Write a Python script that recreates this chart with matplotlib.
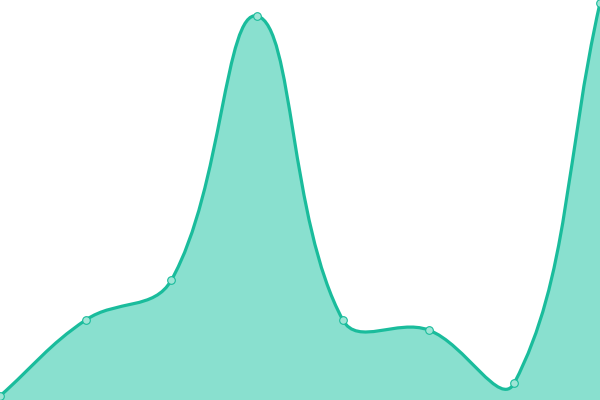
import numpy as np
import matplotlib
matplotlib.use("Agg")
import matplotlib.pyplot as plt
from matplotlib.path import Path
from matplotlib.patches import PathPatch

# values (y axis 0..400)
labels = ["A", "B", "C", "D", "E", "F", "G", "H"]
values = [4, 80, 120, 384, 80, 70, 17, 397]

line_color = "#1abc9c"
fill_color = "#89e0cf"
tension = 0.4

fig = plt.figure(figsize=(6, 4), dpi=100)
ax = fig.add_axes([0, 0, 1, 1])
ax.set_xlim(0, len(values) - 1)
ax.set_ylim(0, 400)
ax.axis("off")

# spline control points computed in pixel space (like chart.js tension)
xs = np.arange(len(values))
pts = ax.transData.transform(np.column_stack([xs, values]))
n = len(pts)
cp_in = [None] * n
cp_out = [None] * n
for i in range(n):
    cur = pts[i]
    prev = pts[i - 1] if i > 0 else cur
    nxt = pts[i + 1] if i < n - 1 else cur
    d01 = np.hypot(*(cur - prev))
    d12 = np.hypot(*(nxt - cur))
    tot = d01 + d12
    s01 = d01 / tot if tot else 0
    s12 = d12 / tot if tot else 0
    cp_in[i] = cur - tension * s01 * (nxt - prev)
    cp_out[i] = cur + tension * s12 * (nxt - prev)

verts = [pts[0]]
codes = [Path.MOVETO]
for i in range(n - 1):
    verts += [cp_out[i], cp_in[i + 1], pts[i + 1]]
    codes += [Path.CURVE4] * 3
inv = ax.transData.inverted()
verts_data = inv.transform(np.array(verts))

base = ax.transData.transform([[xs[-1], 0], [xs[0], 0]])
fill_verts = np.vstack([verts_data, inv.transform(base), verts_data[:1]])
fill_codes = codes + [Path.LINETO, Path.LINETO, Path.CLOSEPOLY]

ax.add_patch(PathPatch(Path(fill_verts, fill_codes), facecolor=fill_color,
                       edgecolor="none", zorder=1))
ax.add_patch(PathPatch(Path(verts_data, codes), facecolor="none",
                       edgecolor=line_color, linewidth=2.3, zorder=2))
ax.plot(xs, values, linestyle="none", marker="o", markersize=5.5,
        markerfacecolor="#9fe5d6", markeredgecolor=line_color,
        markeredgewidth=0.8, zorder=3, clip_on=False)

fig.savefig("out.png", dpi=100)
